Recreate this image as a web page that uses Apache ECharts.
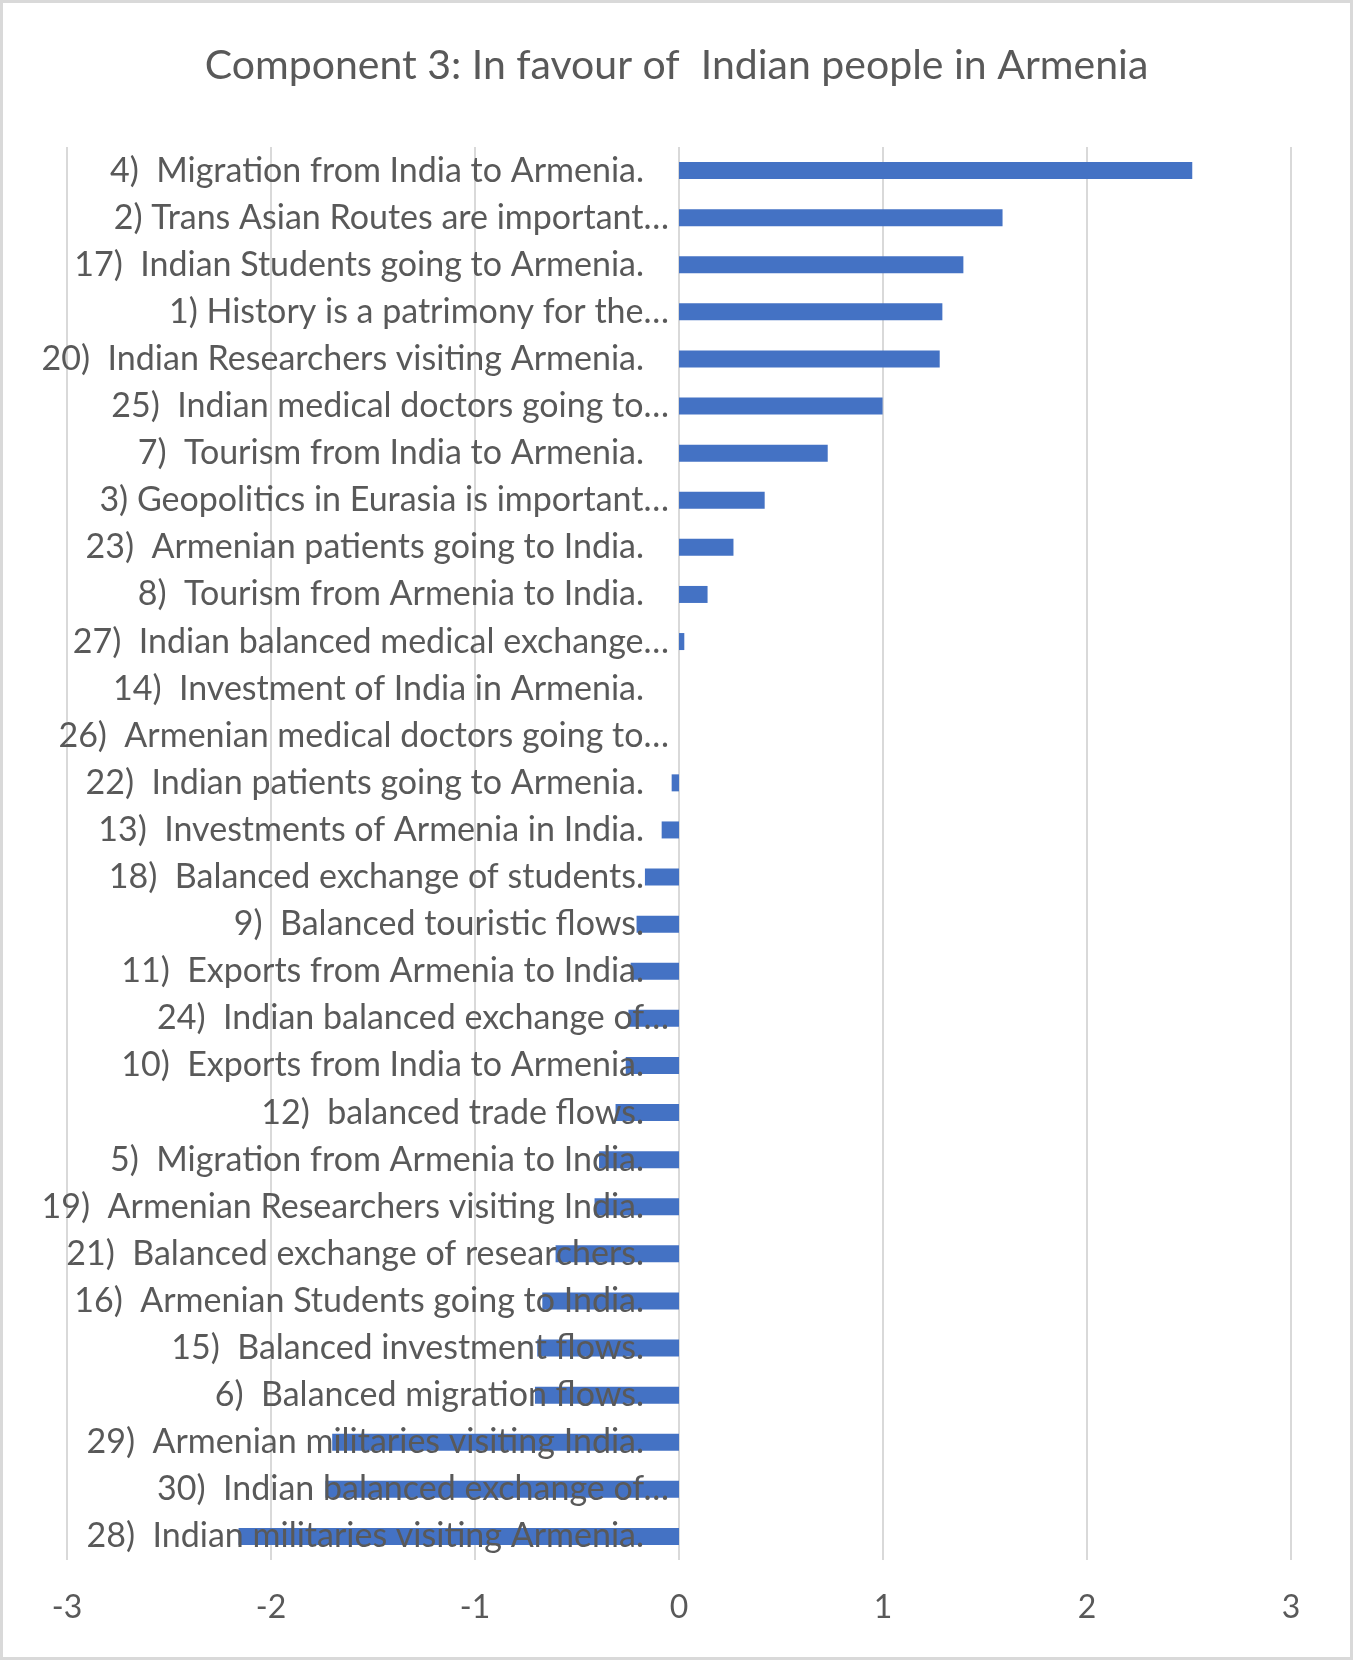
<!DOCTYPE html>
<html>
<head>
<meta charset="utf-8">
<title>Component 3</title>
<script src="https://cdn.jsdelivr.net/npm/echarts@6/dist/echarts.min.js"></script>
<style>
	html, body { margin: 0; padding: 0; background: #fff; }
	#chart { width: 1353px; height: 1660px; box-sizing: border-box; border: 3px solid #d9d9d9; }
</style>
</head>
<body>
<div id="chart"></div>
<script>
// categories, top to bottom
var categories = [
	'4)  Migration from India to Armenia.',
	'2) Trans Asian Routes are important…',
	'17)  Indian Students going to Armenia.',
	'1) History is a patrimony for the…',
	'20)  Indian Researchers visiting Armenia.',
	'25)  Indian medical doctors going to…',
	'7)  Tourism from India to Armenia.',
	'3) Geopolitics in Eurasia is important…',
	'23)  Armenian patients going to India.',
	'8)  Tourism from Armenia to India.',
	'27)  Indian balanced medical exchange…',
	'14)  Investment of India in Armenia.',
	'26)  Armenian medical doctors going to…',
	'22)  Indian patients going to Armenia.',
	'13)  Investments of Armenia in India.',
	'18)  Balanced exchange of students.',
	'9)  Balanced touristic flows.',
	'11)  Exports from Armenia to India.',
	'24)  Indian balanced exchange of…',
	'10)  Exports from India to Armenia.',
	'12)  balanced trade flows.',
	'5)  Migration from Armenia to India.',
	'19)  Armenian Researchers visiting India.',
	'21)  Balanced exchange of researchers.',
	'16)  Armenian Students going to India.',
	'15)  Balanced investment flows.',
	'6)  Balanced migration flows.',
	'29)  Armenian militaries visiting India.',
	'30)  Indian balanced exchange of…',
	'28)  Indian militaries visiting Armenia.'
];

var scores = [
	2.516, 1.586, 1.394, 1.291, 1.278, 0.998, 0.729, 0.420, 0.267, 0.140,
	0.026, 0, 0, -0.036, -0.085, -0.167, -0.208, -0.237, -0.248, -0.261,
	-0.311, -0.392, -0.414, -0.605, -0.670, -0.695, -0.706, -1.700, -1.733, -2.159
];

var xTicks = [-3, -2, -1, 0, 1, 2, 3];

var textColor = '#595959';
var fontName = 'Lato';
var gridLeft = 64;

var chart = echarts.init(document.getElementById('chart'));
chart.setOption({
	animation : false,
	title : {
		text : 'Component 3: In favour of  Indian people in Armenia',
		left : 'center',
		top : 37,
		textStyle : {
			color : textColor,
			fontFamily : fontName,
			fontWeight : 'normal',
			fontSize : 41
		}
	},
	grid : {
		left : gridLeft,
		right : 59,
		top : 144,
		bottom : 97,
		containLabel : false,
		outerBoundsMode : 'none'
	},
	xAxis : {
		type : 'value',
		min : xTicks[0],
		max : xTicks[xTicks.length - 1],
		interval : 1,
		axisLine : { show : false },
		axisTick : { show : false },
		splitLine : { lineStyle : { color : '#d9d9d9', width : 2 } },
		axisLabel : {
			color : textColor,
			fontFamily : fontName,
			fontSize : 32,
			margin : 32
		}
	},
	yAxis : {
		type : 'category',
		inverse : true,
		data : categories,
		z : 5,
		axisLine : { show : false, onZero : false },
		axisTick : { show : false },
		axisLabel : {
			margin : 10,
			formatter : function(v) {
				// Excel leaves a gap after labels that are not cut short
				return v.charAt(v.length - 1) === '…' ? '{c|' + v + '}' : '{f|' + v + '}';
			},
			rich : {
				c : { color : textColor, fontFamily : fontName, fontSize : 34 },
				f : { color : textColor, fontFamily : fontName, fontSize : 34, padding : [0, 25, 0, 0] }
			}
		}
	},
	series : [ {
		type : 'bar',
		data : scores,
		barWidth : 17,
		itemStyle : { color : '#4472c4' }
	} ]
});

// labels sit next to the zero line, like Excel does
var zeroX = chart.convertToPixel({ xAxisIndex : 0 }, 0);
chart.setOption({ yAxis : { offset : gridLeft - zeroX } });
</script>
</body>
</html>
